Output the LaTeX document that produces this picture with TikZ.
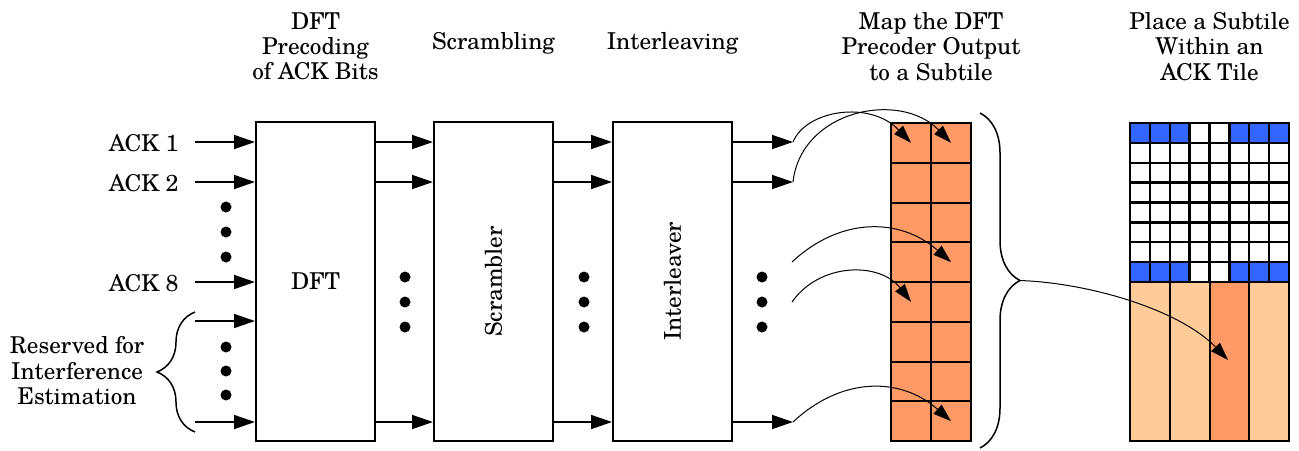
\documentclass[tikz,border=0pt]{standalone}
\usepackage{fontspec}
\setmainfont{TeX Gyre Schola}
\usetikzlibrary{arrows.meta,decorations.pathreplacing}
\definecolor{subtile}{RGB}{255,153,102}
\definecolor{tilebg}{RGB}{255,204,153}
\definecolor{pilot}{RGB}{51,102,255}
\begin{document}
\begin{tikzpicture}[x=0.5pt,y=-0.5pt,
  every node/.style={font=\fontsize{11.6}{12.7}\selectfont, inner sep=0pt},
  block/.style={draw, line width=1pt, minimum width=59.5pt, minimum height=159.5pt},
  flow/.style={line width=0.8pt, -{Triangle[length=10.5pt,width=7pt]}},
  map/.style={line width=0.5pt, -{Triangle[length=9pt,width=6pt]}},
  dot/.style={circle, fill, minimum size=5.5pt},
  title/.style={align=center, anchor=north},
  lbl/.style={anchor=east},
  cellbox/.style={draw, line width=1pt},
  brace/.style={decorate, line width=0.75pt}
]
\useasboundingbox (0,0) rectangle (1299,450);

% processing blocks
\node[block] (dft) at (315.5,281.5) {DFT};
\node[block] (scr) at (493.5,281.5) {};
\node[rotate=90] (scrtxt) at (scr.center) {Scrambler};
\node[block] (ilv) at (672.5,281.5) {};
\node[rotate=90] (ilvtxt) at (ilv.center) {Interleaver};

% column titles
\node[title] (t1) at (315.5,12) {DFT\\Precoding\\of ACK Bits};
\node[title] (t2) at (493.5,32) {Scrambling};
\node[title] (t3) at (672.5,32) {Interleaving};
\node[title] (t4) at (931,12) {Map the DFT\\Precoder Output\\to a Subtile};
\node[title] (t5) at (1209.5,12) {Place a Subtile\\Within an\\ACK Tile};

% inputs
\foreach \n/\y in {1/142,2/182,8/282,r1/321,r2/422}
  \coordinate (in\n) at (195,\y);
\foreach \n in {1,2,8,r1,r2}
  \draw[flow] (in\n) -- (in\n -| dft.west);
\node[lbl] (ack1) at (179,143) {ACK 1};
\node[lbl] (ack2) at (179,183) {ACK 2};
\node[lbl] (ack8) at (179,283) {ACK 8};
\node[align=center] (resv) at (77,371) {Reserved for\\Interference\\Estimation};
\draw[brace, decoration={brace, amplitude=19pt}] (195,432) -- (195,312);

% ellipsis dots
\foreach \y in {207,232,257,347,371,395}
  \node[dot] at (226,\y) {};
\foreach \x in {405,584,762}
  \foreach \y in {277,302,327}
    \node[dot] at (\x,\y) {};

% links between blocks
\foreach \n in {1,2,r2} {
  \draw[flow] (dft.east |- in\n) -- (scr.west |- in\n);
  \draw[flow] (scr.east |- in\n) -- (ilv.west |- in\n);
  \draw[flow] (ilv.east |- in\n) -- ++(60,0) coordinate (out\n);
}
\coordinate (m1) at (792,262);
\coordinate (m2) at (792,302);

% subtile (2 x 8)
\foreach \r in {0,...,7}
  \foreach \c in {0,1}
    \node[cellbox, fill=subtile, minimum width=20pt, minimum height=19.875pt]
      (s-\r-\c) at (911+40*\c, 142.875+39.75*\r) {};

% mapping of precoder outputs onto subtile cells
\draw[map] (out1) .. controls +(13,-32) and +(-41,-43) .. (s-0-0.center);
\draw[map] (out2) .. controls +(8,-72) and +(-51,-53) .. (s-0-1.center);
\draw[map] (m1) .. controls +(48,-45) and +(-51,-45) .. (s-3-1.center);
\draw[map] (m2) .. controls +(28,-40) and +(-31,-40) .. (s-4-0.center);
\draw[map] (outr2) .. controls +(48,-45) and +(-51,-45) .. (s-7-1.center);

% brace gathering the subtile
\draw[brace, decoration={brace, amplitude=20pt}] (980,113) -- (980,448);
\coordinate (btip) at (1020,280.5);

% ACK tile: 8 x 8 upper part
\foreach \r in {0,...,7}
  \foreach \c in {0,...,7}
    \node[cellbox, line width=1.2pt, fill=white, minimum width=9.9375pt, minimum height=9.9375pt]
      (u-\r-\c) at (1130+19.875*\c+9.9375, 123+19.875*\r+9.9375) {};
\foreach \r in {0,7}
  \foreach \c in {0,1,2,5,6,7}
    \node[cellbox, line width=1.2pt, fill=pilot, minimum width=9.9375pt, minimum height=9.9375pt]
      at (u-\r-\c) {};
% ACK tile: lower part with four subtile slots
\foreach \c in {0,1,3}
  \node[cellbox, fill=tilebg, minimum width=19.875pt, minimum height=79.5pt]
    (b-\c) at (1130+39.75*\c+19.875, 361.5) {};
\node[cellbox, fill=subtile, minimum width=19.875pt, minimum height=79.5pt]
  (b-2) at (1130+39.75*2+19.875, 361.5) {};
\coordinate (tgt) at (1228,360);

\draw[map] (btip) .. controls (1090,283) and (1180,310) .. (tgt);
\end{tikzpicture}
\end{document}
